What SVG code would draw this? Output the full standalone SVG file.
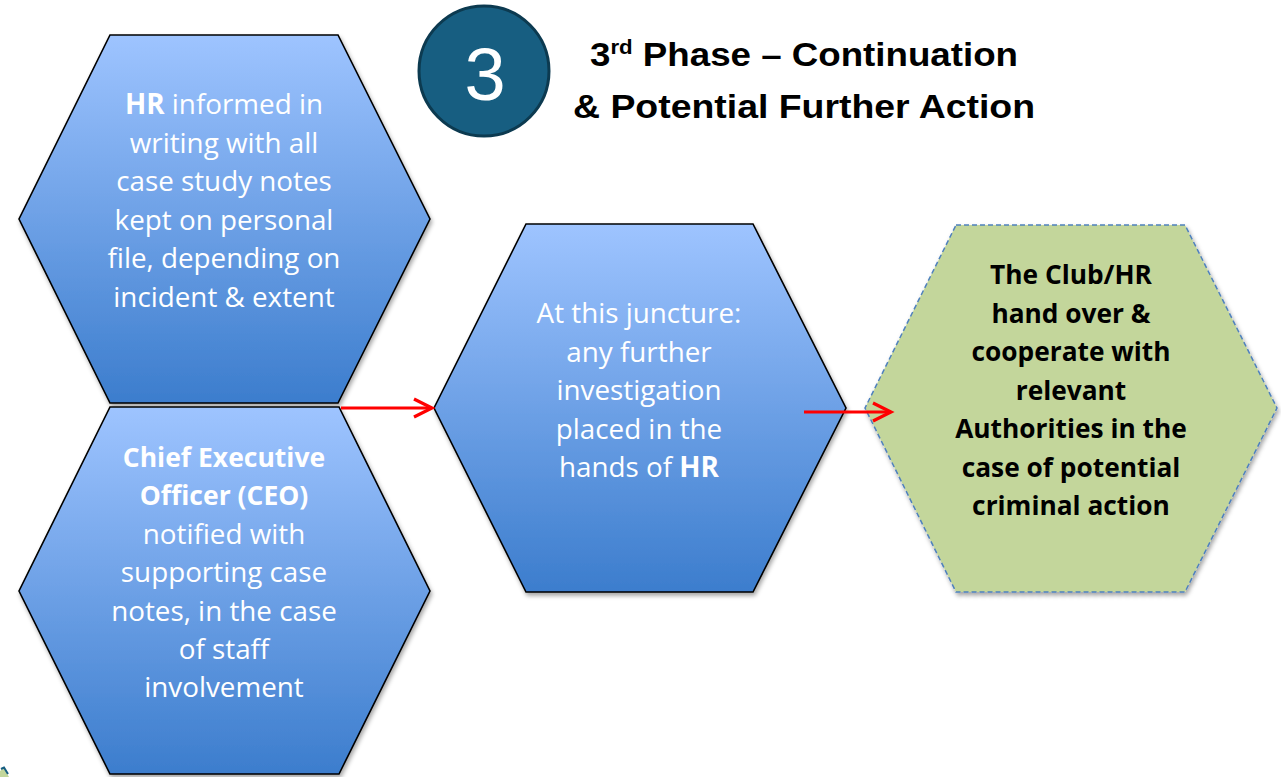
<svg xmlns="http://www.w3.org/2000/svg" width="1281" height="777" viewBox="0 0 1281 777">
<style>
.hex{stroke:#000;stroke-width:1.6;stroke-linejoin:miter;fill:url(#blue)}
.green{fill:#c3d69b;stroke:#4f81bd;stroke-width:1.5;stroke-dasharray:5 3}
.t{font-family:"Open Sans","Liberation Sans",sans-serif;font-size:27.8px;fill:#fff;text-anchor:middle}
.tb{font-family:"Open Sans","Liberation Sans",sans-serif;font-size:26.3px;font-weight:700;fill:#000;text-anchor:middle}
.b{font-weight:700}
.bs{font-weight:700;font-size:26.5px}
.title{font-family:"Liberation Sans",Arial,sans-serif;font-size:33px;font-weight:700;fill:#000}
.conn{stroke:#ff0000;stroke-width:3.2;fill:none;marker-end:url(#arr)}
</style>
<defs>
<linearGradient id="blue" x1="0" y1="0" x2="0" y2="1">
<stop offset="0" stop-color="#9ec4ff"/>
<stop offset="1" stop-color="#3c7dcd"/>
</linearGradient>
<filter id="sh" x="-10%" y="-10%" width="125%" height="125%">
<feDropShadow dx="1.5" dy="3" stdDeviation="2" flood-color="#000" flood-opacity="0.35"/>
</filter>
<marker id="arr" markerUnits="userSpaceOnUse" markerWidth="24" markerHeight="24" refX="19" refY="10" orient="auto" viewBox="0 0 24 20">
<path d="M1,1 L19,10 L1,19" fill="none" stroke="#ff0000" stroke-width="3.2"/>
</marker>
</defs>
<rect width="1281" height="777" fill="#fff"/>

<g id="header">
<circle cx="484" cy="71" r="65" fill="#175e81" stroke="#0c3a50" stroke-width="3"/>
<text x="485" y="100" font-family="Liberation Sans,Arial,sans-serif" font-size="74" fill="#fff" text-anchor="middle">3</text>
<text class="title" x="590" y="66" textLength="428" lengthAdjust="spacingAndGlyphs">3<tspan font-size="20" dy="-12">rd</tspan><tspan dy="12"> Phase – Continuation</tspan></text>
<text class="title" x="573" y="118" textLength="462" lengthAdjust="spacingAndGlyphs">&amp; Potential Further Action</text>
</g>

<g id="node-hr-informed">
<polygon class="hex" filter="url(#sh)" points="110,35 338,35 430,219 338,403 110,403 19,219"/>
<text class="t" x="224" y="114"><tspan class="b">HR</tspan> informed in</text>
<text class="t" x="224" y="152.5">writing with all</text>
<text class="t" x="224" y="191">case study notes</text>
<text class="t" x="224" y="229.5">kept on personal</text>
<text class="t" x="224" y="268">file, depending on</text>
<text class="t" x="224" y="306.5">incident &amp; extent</text>
</g>

<g id="node-ceo">
<polygon class="hex" filter="url(#sh)" points="110,407 339,407 430,591 339,774 110,774 19,591"/>
<text class="t bs" x="224" y="466.5">Chief Executive</text>
<text class="t bs" x="224" y="505">Officer (CEO)</text>
<text class="t" x="224" y="543.5">notified with</text>
<text class="t" x="224" y="582">supporting case</text>
<text class="t" x="224" y="620.5">notes, in the case</text>
<text class="t" x="224" y="659">of staff</text>
<text class="t" x="224" y="697">involvement</text>
</g>

<g id="node-juncture">
<polygon class="hex" filter="url(#sh)" points="526,224 753,224 846,408 753,592 526,592 434,408"/>
<text class="t" x="639" y="323">At this juncture:</text>
<text class="t" x="639" y="361.5">any further</text>
<text class="t" x="639" y="400">investigation</text>
<text class="t" x="639" y="438.5">placed in the</text>
<text class="t" x="639" y="477">hands of <tspan class="b">HR</tspan></text>
</g>

<g id="node-authorities">
<polygon class="green" filter="url(#sh)" points="956,225 1185,225 1277,408 1185,592 956,592 865,408"/>
<text class="tb" x="1071" y="284">The Club/HR</text>
<text class="tb" x="1071" y="322.5">hand over &amp;</text>
<text class="tb" x="1071" y="361">cooperate with</text>
<text class="tb" x="1071" y="399.5">relevant</text>
<text class="tb" x="1071" y="438">Authorities in the</text>
<text class="tb" x="1071" y="476.5">case of potential</text>
<text class="tb" x="1071" y="515">criminal action</text>
</g>

<g id="connectors">
<line class="conn" x1="341" y1="408" x2="432" y2="408"/>
<line class="conn" x1="804" y1="412" x2="891" y2="412"/>
</g>

<g id="corner-fragment">
<polygon points="0,771 4,768 9,777 0,777" fill="#c3d69b"/>
<polyline points="1,769 4,767.5 8,774" fill="none" stroke="#175e81" stroke-width="2"/>
</g>
</svg>
